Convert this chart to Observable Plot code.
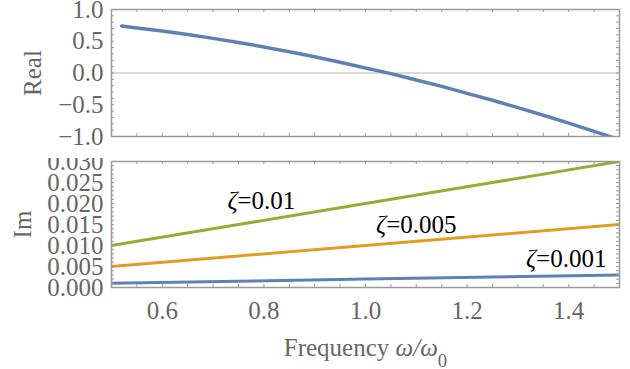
<!DOCTYPE html>
<html>
<head>
<meta charset="utf-8">
<script src="https://cdn.jsdelivr.net/npm/d3@7"></script>
<script src="https://cdn.jsdelivr.net/npm/@observablehq/plot@0.6"></script>
<style>
  html, body { margin: 0; padding: 0; background: white; }
  #chart { width: 630px; height: 369px; position: relative; overflow: hidden; }
  #chart svg { display: block; font-size: 25px !important; overflow: hidden; background: white; }
  #chart svg, #chart svg text, #chart svg tspan { font-family: "Liberation Serif", serif !important; }
</style>
</head>
<body>
<div id="chart"></div>
<script>
// ---- data ----
const omegaRe = [0.52, 0.55, 0.60, 0.65, 0.70, 0.75, 0.80, 0.85, 0.90, 0.95, 1.00, 1.05, 1.10, 1.15, 1.20, 1.25, 1.30, 1.35, 1.40, 1.45, 1.50];
const realVals = [0.74, 0.71, 0.66, 0.605, 0.545, 0.48, 0.41, 0.335, 0.255, 0.17, 0.08, -0.01, -0.11, -0.21, -0.32, -0.43, -0.545, -0.665, -0.79, -0.92, -1.05];

const omegaIm = [0.5, 0.75, 1.0, 1.25, 1.5];
const imZeta001 = [0.001, 0.0015, 0.002, 0.0025, 0.003];
const imZeta005 = [0.005, 0.0075, 0.010, 0.0125, 0.015];
const imZeta01 = [0.010, 0.015, 0.020, 0.025, 0.030];

const zetaLabels = ["ζ=0.01", "ζ=0.005", "ζ=0.001"];
const zetaLabelX = [0.795, 1.10, 1.395];
const zetaLabelY = [0.0207, 0.0148, 0.0069];

const xTickLabels = [0.6, 0.8, 1.0, 1.2, 1.4];
const xMinorTicks = d3.range(11, 30).map(i => i * 0.05).filter(v => v > 0.5 && v < 1.5);
const reTickLabels = [-1.0, -0.5, 0.0, 0.5, 1.0];
const reMinorTicks = d3.range(-9, 10).map(i => i / 10);
const imTickLabels = [0.000, 0.005, 0.010, 0.015, 0.020, 0.025, 0.030];
const imMinorTicks = d3.range(1, 30).map(i => i / 1000);

// ---- build tables ----
const realData = omegaRe.map((w, i) => ({w, v: realVals[i]}));
const imData = [
  ...omegaIm.map((w, i) => ({w, v: imZeta001[i], s: "0.001"})),
  ...omegaIm.map((w, i) => ({w, v: imZeta005[i], s: "0.005"})),
  ...omegaIm.map((w, i) => ({w, v: imZeta01[i], s: "0.01"}))
];
const labelData = zetaLabels.map((t, i) => ({t, w: zetaLabelX[i], v: zetaLabelY[i]}));

const colors = {"0.001": "#5E81B5", "0.005": "#E19C24", "0.01": "#8FB032"};
const frameColor = "#999";
const textColor = "#666";
const W = 630, ML = 111, MR = 11;
const frameW = W - ML - MR;

function edgeTicks(xTicks, yTicks, frameH, lenX, lenY) {
  return [
    Plot.tickX(xTicks, {x: d => d, insetTop: frameH - lenX, stroke: frameColor}),
    Plot.tickX(xTicks, {x: d => d, insetBottom: frameH - lenX, stroke: frameColor}),
    Plot.tickY(yTicks, {y: d => d, insetRight: frameW - lenY, stroke: frameColor}),
    Plot.tickY(yTicks, {y: d => d, insetLeft: frameW - lenY, stroke: frameColor})
  ];
}

const baseStyle = {color: textColor, background: "white"};

// ---- top panel: Real ----
const topH = 158, topMT = 9, topMB = 22;
const realPlot = Plot.plot({
  width: W, height: topH,
  marginLeft: ML, marginRight: MR, marginTop: topMT, marginBottom: topMB,
  style: baseStyle,
  x: {domain: [0.5, 1.5], label: null, axis: null},
  y: {domain: [-1, 1], label: null},
  marks: [
    Plot.ruleY([0], {stroke: "#b4b4b4", strokeWidth: 1}),
    Plot.line(realData, {x: "w", y: "v", stroke: "#5E81B5", strokeWidth: 3.5, clip: true}),
    ...edgeTicks(xMinorTicks, reMinorTicks, topH - topMT - topMB, 3, 3),
    Plot.frame({stroke: frameColor, strokeWidth: 1.5}),
    Plot.axisY(reTickLabels, {tickSize: 0, tickPadding: 8, tickFormat: d3.format(".1f"), fill: textColor,
      label: "Real", labelAnchor: "center", labelOffset: 88, labelArrow: "none"})
  ]
});

// ---- bottom panel: Im ----
const botH = 369 - topH, botMT = 3, botMB = 82;
const imPlot = Plot.plot({
  width: W, height: botH,
  marginLeft: ML, marginRight: MR, marginTop: botMT, marginBottom: botMB,
  style: baseStyle,
  x: {domain: [0.5, 1.5], label: null},
  y: {domain: [0, 0.03], label: null},
  color: {domain: Object.keys(colors), range: Object.values(colors)},
  marks: [
    Plot.line(imData, {x: "w", y: "v", z: "s", stroke: "s", strokeWidth: 3, clip: true}),
    Plot.text(labelData, {x: "w", y: "v", text: "t", fill: "black", fontSize: 25}),
    ...edgeTicks(xMinorTicks, imMinorTicks, botH - botMT - botMB, 3, 3),
    Plot.frame({stroke: frameColor, strokeWidth: 1.5}),
    Plot.axisY(imTickLabels, {tickSize: 0, tickPadding: 8, tickFormat: d3.format(".3f"), fill: textColor,
      label: "Im", labelAnchor: "center", labelOffset: 98, labelArrow: "none"}),
    Plot.axisX(xTickLabels, {tickSize: 0, tickPadding: 14, tickFormat: d3.format(".1f"), fill: textColor,
      label: "Frequency ω/ω0", labelAnchor: "center", labelOffset: 68, labelArrow: "none"})
  ]
});

const chart = document.getElementById("chart");
chart.appendChild(realPlot);
chart.appendChild(imPlot);

// italic Greek letters and subscript in text
function styleGreek(textEl, parts) {
  textEl.textContent = "";
  for (const p of parts) {
    const ts = document.createElementNS("http://www.w3.org/2000/svg", "tspan");
    ts.textContent = p.t;
    if (p.italic) ts.setAttribute("font-style", "italic");
    if (p.sub) { ts.setAttribute("baseline-shift", "sub"); ts.setAttribute("font-size", "0.75em"); }
    textEl.appendChild(ts);
  }
}
imPlot.querySelectorAll("text").forEach(el => {
  const s = el.textContent;
  if (s.startsWith("ζ")) {
    styleGreek(el, [{t: "ζ", italic: true}, {t: s.slice(1)}]);
  } else if (s.startsWith("Frequency")) {
    styleGreek(el, [{t: "Frequency "}, {t: "ω/ω", italic: true}, {t: "0", sub: true}]);
  }
});
</script>
</body>
</html>
